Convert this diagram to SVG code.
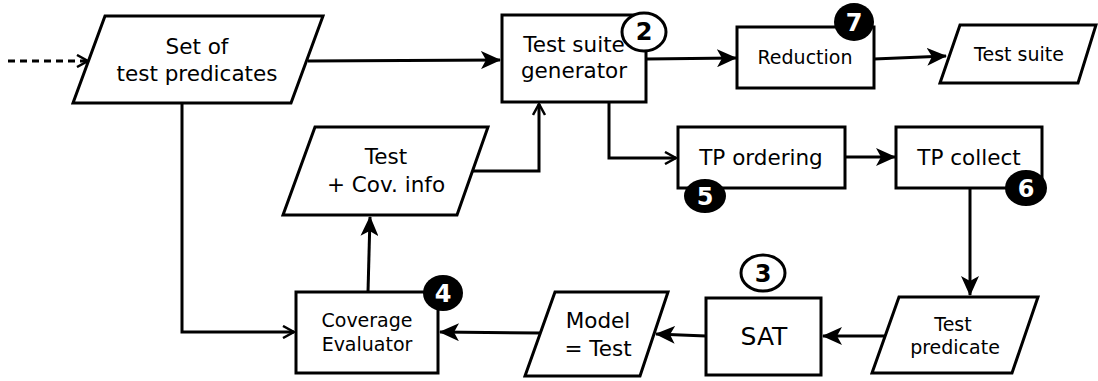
<svg xmlns="http://www.w3.org/2000/svg" width="1098" height="381" viewBox="0 0 1098 381">
  <style>
    .shape { fill: #fff; stroke: #000; stroke-width: 3; stroke-linejoin: miter; }
    .edge { fill: none; stroke: #000; stroke-width: 3; }
    .lbl { font-family: "DejaVu Sans", "Liberation Sans", sans-serif; fill: #000; text-anchor: middle; }
    .big { font-size: 21.5px; }
    .sm { font-size: 19px; }
    .num { font-family: "DejaVu Sans", "Liberation Sans", sans-serif; font-weight: bold; font-size: 24px; text-anchor: middle; }
    .badge-o { fill: #fff; stroke: #000; stroke-width: 3; }
    .badge-f { fill: #000; stroke: none; }
  </style>
  <defs>
    <marker id="open" markerWidth="14" markerHeight="14" viewBox="0 0 14 14" refX="12" refY="7" orient="auto" markerUnits="userSpaceOnUse">
      <path d="M1,1 L12,7 L1,13" fill="none" stroke="#000" stroke-width="2.5"/>
    </marker>
    <marker id="solidL" markerWidth="20" markerHeight="18" viewBox="0 0 20 18" refX="19" refY="9" orient="auto" markerUnits="userSpaceOnUse">
      <path d="M0,0 L20,9 L0,18 L5,9 Z" fill="#000"/>
    </marker>
  </defs>

  <!-- connectors -->
  <g id="connectors">
    <path class="edge" d="M8,61 L88,61" stroke-dasharray="7,5" marker-end="url(#open)"/>
    <path class="edge" d="M308,61 L500,60" marker-end="url(#solidL)"/>
    <path class="edge" d="M646,59 L736,58" marker-end="url(#solidL)"/>
    <path class="edge" d="M874,59 L946,56" marker-end="url(#solidL)"/>
    <path class="edge" d="M472,171 L539,171 L539,104" marker-end="url(#open)"/>
    <path class="edge" d="M609,102 L609,158 L676,158" marker-end="url(#open)"/>
    <path class="edge" d="M845,157 L895,157" marker-end="url(#solidL)"/>
    <path class="edge" d="M970,188 L970,295" marker-end="url(#solidL)"/>
    <path class="edge" d="M885,336 L823,336" marker-end="url(#solidL)"/>
    <path class="edge" d="M706,336 L656,334" marker-end="url(#solidL)"/>
    <path class="edge" d="M540,333 L440,332" marker-end="url(#solidL)"/>
    <path class="edge" d="M182,103 L182,332 L294,332" marker-end="url(#open)"/>
    <path class="edge" d="M368,292 L370,217" marker-end="url(#solidL)"/>
  </g>

  <!-- nodes -->
  <g id="set-of-test-predicates">
    <polygon class="shape" points="105,16 323,16 291,103 73,103"/>
    <text class="lbl big" x="197" y="54">Set of</text>
    <text class="lbl big" x="197" y="81">test predicates</text>
  </g>

  <g id="test-suite-generator">
    <rect class="shape" x="502" y="15" width="144" height="87"/>
    <text class="lbl big" x="574" y="52">Test suite</text>
    <text class="lbl big" x="574" y="78">generator</text>
    <ellipse class="badge-o" cx="644" cy="32" rx="22" ry="19"/>
    <text class="num" x="644" y="40">2</text>
  </g>

  <g id="reduction">
    <rect class="shape" x="737" y="27" width="137" height="61"/>
    <text class="lbl sm" x="805" y="64">Reduction</text>
    <ellipse class="badge-f" cx="854" cy="22" rx="20" ry="19"/>
    <text class="num" x="854" y="31" fill="#fff">7</text>
  </g>

  <g id="test-suite">
    <polygon class="shape" points="960,25 1096,25 1078,83 940,83"/>
    <text class="lbl sm" x="1019" y="61">Test suite</text>
  </g>

  <g id="test-cov-info">
    <polygon class="shape" points="315,127 488,127 457,215 283,215"/>
    <text class="lbl big" x="386" y="164">Test</text>
    <text class="lbl big" x="386" y="192">+ Cov. info</text>
  </g>

  <g id="tp-ordering">
    <rect class="shape" x="678" y="127" width="167" height="61"/>
    <text class="lbl big" x="761" y="165">TP ordering</text>
    <ellipse class="badge-f" cx="705" cy="196" rx="21" ry="17"/>
    <text class="num" x="705" y="205" fill="#fff">5</text>
  </g>

  <g id="tp-collect">
    <rect class="shape" x="896" y="127" width="146" height="61"/>
    <text class="lbl big" x="969" y="165">TP collect</text>
    <ellipse class="badge-f" cx="1026" cy="188" rx="21" ry="18"/>
    <text class="num" x="1026" y="197" fill="#fff">6</text>
  </g>

  <g id="test-predicate">
    <polygon class="shape" points="899,297 1038,297 1012,373 872,373"/>
    <text class="lbl sm" x="953" y="331">Test</text>
    <text class="lbl sm" x="955" y="354">predicate</text>
  </g>

  <g id="sat">
    <rect class="shape" x="706" y="298" width="115" height="77"/>
    <text class="lbl" x="764" y="345" font-size="25">SAT</text>
    <ellipse class="badge-o" cx="763" cy="273" rx="22" ry="18"/>
    <text class="num" x="763" y="282">3</text>
  </g>

  <g id="model-test">
    <polygon class="shape" points="555,292 668,292 640,376 525,376"/>
    <text class="lbl big" x="598" y="328">Model</text>
    <text class="lbl big" x="598" y="356">= Test</text>
  </g>

  <g id="coverage-evaluator">
    <rect class="shape" x="296" y="292" width="142" height="81"/>
    <text class="lbl sm" x="367" y="327">Coverage</text>
    <text class="lbl sm" x="367" y="351">Evaluator</text>
    <ellipse class="badge-f" cx="443" cy="293" rx="20" ry="18"/>
    <text class="num" x="443" y="302" fill="#fff">4</text>
  </g>
</svg>
